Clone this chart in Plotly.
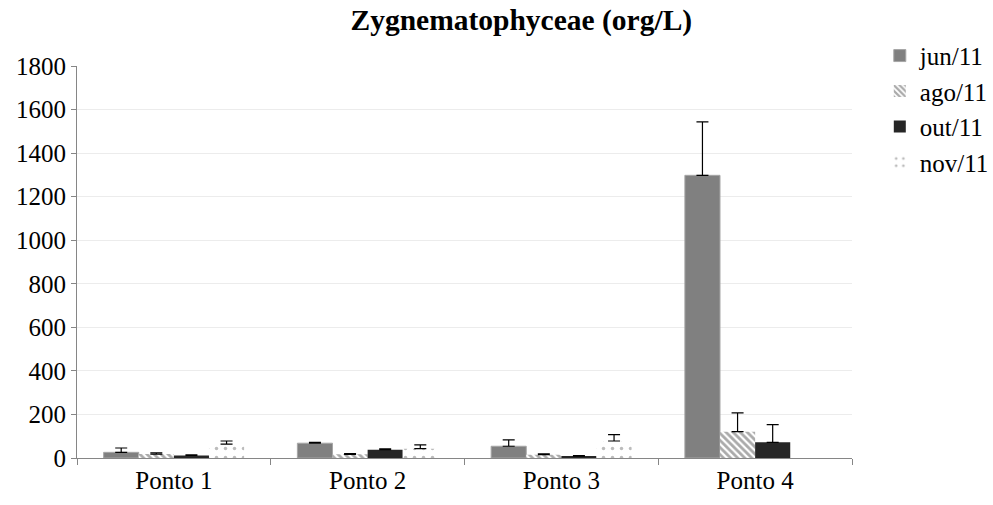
import plotly.graph_objects as go

categories = ["Ponto 1", "Ponto 2", "Ponto 3", "Ponto 4"]
series_names = ["jun/11", "ago/11", "out/11", "nov/11"]

jun_vals = [26, 68, 54, 1298]
jun_err = [20, 4, 29, 245]
ago_vals = [18, 17, 15, 121]
ago_err = [6, 3, 4, 86]
out_vals = [12, 38, 8, 72]
out_err = [2, 4, 3, 81]
nov_vals = [64, 43, 78, None]
nov_err = [14, 17, 29, None]

y_ticks = [0, 200, 400, 600, 800, 1000, 1200, 1400, 1600, 1800]

FONT = "Liberation Serif"

fig = go.Figure()

def err(arr):
    return dict(type="data", array=arr, arrayminus=[0 if v is not None else None for v in arr],
                symmetric=False, color="black", thickness=1.2, width=6)

fig.add_trace(go.Bar(
    name=series_names[0], x=categories, y=jun_vals, error_y=err(jun_err),
    marker=dict(color="#808080", line=dict(color="#a6a6a6", width=1)),
    legendgroup="a",
))
fig.add_trace(go.Bar(
    name=series_names[1], x=categories, y=ago_vals, error_y=err(ago_err),
    marker=dict(color="white", line=dict(width=0),
                pattern=dict(shape="\\", fgcolor="#555555", bgcolor="white",
                             size=5, solidity=0.55)),
    legendgroup="b",
))
fig.add_trace(go.Bar(
    name=series_names[2], x=categories, y=out_vals, error_y=err(out_err),
    marker=dict(color="#262626", line=dict(width=0)),
    legendgroup="c",
))
fig.add_trace(go.Bar(
    name=series_names[3], x=categories, y=nov_vals, error_y=err(nov_err),
    marker=dict(color="white", line=dict(width=0),
                pattern=dict(shape=".", fgcolor="#7a7a7a", bgcolor="white",
                             size=9, solidity=0.12)),
    legendgroup="d",
))

fig.update_layout(
    width=993, height=505,
    margin=dict(l=77, r=141, t=66, b=47, autoexpand=False),
    paper_bgcolor="white", plot_bgcolor="white",
    font=dict(family=FONT, size=25, color="#000000"),
    title=dict(text="<b>Zygnematophyceae (org/L)</b>", x=0.525, xanchor="center",
               xref="container", yref="container",
               y=0.961, yanchor="middle", font=dict(family=FONT, size=29.5, color="black")),
    barmode="group", bargap=0.275, bargroupgap=0,
    showlegend=True,
    legend=dict(x=0.886, xanchor="left", y=0.935, yanchor="top",
                xref="container", yref="container",
                font=dict(family=FONT, size=25), tracegroupgap=3,
                traceorder="normal", bgcolor="rgba(0,0,0,0)", itemwidth=30),
    xaxis=dict(
        showline=True, linecolor="#868686", linewidth=1,
        ticks="outside", tickson="boundaries", ticklen=6, tickcolor="#868686",
        tickfont=dict(family=FONT, size=25), showgrid=False, automargin=False,
    ),
    yaxis=dict(
        range=[0, 1800], tickvals=y_ticks, ticktext=[str(v) for v in y_ticks],
        showline=True, linecolor="#868686", linewidth=1,
        ticks="outside", ticklen=5, tickcolor="#868686",
        showgrid=True, gridcolor="#ececec", gridwidth=1, zeroline=False,
        tickfont=dict(family=FONT, size=25), automargin=False,
    ),
)

fig.write_html("out.html", config={"displayModeBar": False},
               post_script="document.body.style.margin='0';document.body.style.overflow='hidden';")
